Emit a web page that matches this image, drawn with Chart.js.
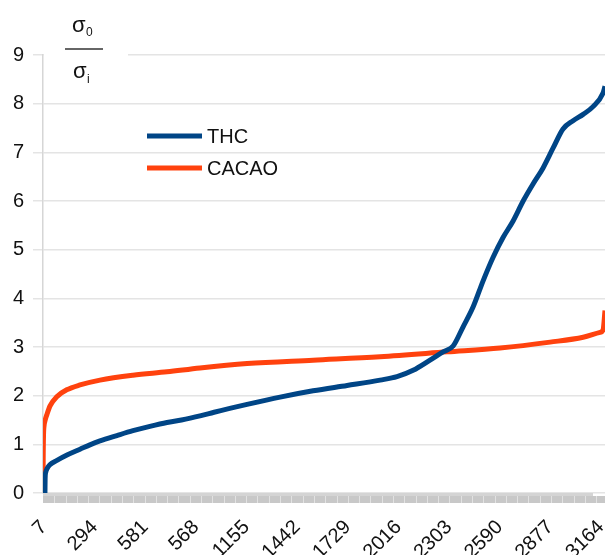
<!DOCTYPE html>
<html>
<head>
<meta charset="utf-8">
<script src="https://cdn.jsdelivr.net/npm/chart.js@4"></script>
<style>
  html, body { margin: 0; padding: 0; background: #fff; }
  #wrap { width: 605px; height: 555px; }
</style>
</head>
<body>
<div id="wrap"><canvas id="ratioChart" width="605" height="555"></canvas></div>
<script>
// x positions (sample index) and the tick labels shown on the axis
const tickValues = [7, 294, 581, 868, 1155, 1442, 1729, 2016, 2303, 2590, 2877, 3164];
const tickLabels = ['7', '294', '581', '568', '1155', '1442', '1729', '2016', '2303', '2590', '2877', '3164'];

// THC series
const thcX = [18, 19, 22, 30, 46, 86, 143, 217, 273, 330, 426, 517, 613, 710, 792, 903, 977, 1164, 1351, 1538, 1731, 1918, 2014, 2105, 2201, 2275, 2332, 2388, 2445, 2502, 2558, 2615, 2672, 2729, 2785, 2842, 2899, 2955, 3012, 3069, 3125, 3182, 3193];
const thcY = [0, 0.3, 0.42, 0.5, 0.58, 0.67, 0.78, 0.9, 0.99, 1.07, 1.18, 1.28, 1.37, 1.45, 1.5, 1.59, 1.66, 1.82, 1.97, 2.1, 2.21, 2.32, 2.39, 2.52, 2.73, 2.9, 3.02, 3.41, 3.82, 4.36, 4.84, 5.25, 5.59, 6.0, 6.35, 6.68, 7.09, 7.48, 7.65, 7.78, 7.94, 8.22, 8.36];

// CACAO series
const cacaoX = [7, 8, 10, 13, 18, 28, 47, 85, 141, 217, 330, 517, 710, 897, 1164, 1538, 1918, 2298, 2598, 2882, 3069, 3165, 3182, 3193];
const cacaoY = [0, 0.7, 1.2, 1.38, 1.48, 1.6, 1.79, 1.98, 2.12, 2.22, 2.32, 2.42, 2.49, 2.57, 2.66, 2.73, 2.80, 2.90, 2.98, 3.1, 3.2, 3.3, 3.35, 3.75];

const toPoints = (xs, ys) => xs.map((x, i) => ({ x: x, y: ys[i] }));
const FONT = '"Liberation Sans", Arial, sans-serif';

// grey band under the plot, with light stripes, and the slanted x labels
const axisBand = {
  id: 'axisBand',
  beforeDatasetsDraw(chart) {
    const { ctx, chartArea } = chart;
    const xs = chart.scales.x;
    ctx.save();
    ctx.fillStyle = '#d4d4d4';
    ctx.fillRect(chartArea.left, chartArea.bottom, chartArea.right - chartArea.left - 12, 3);
    ctx.fillStyle = '#c8c8c8';
    ctx.fillRect(chartArea.left, chartArea.bottom + 3, chartArea.right - chartArea.left, 7);
    ctx.fillStyle = '#e2e2e2';
    for (let v = 7 + 64; v < xs.max; v += 64) {
      const px = Math.round(xs.getPixelForValue(v));
      ctx.fillRect(px, chartArea.bottom + 3, 1, 7);
    }

    ctx.fillStyle = '#111';
    ctx.font = '20px ' + FONT;
    ctx.textAlign = 'right';
    ctx.textBaseline = 'middle';
    tickValues.forEach((v, i) => {
      const px = xs.getPixelForValue(v);
      ctx.save();
      ctx.translate(px + 1, chartArea.bottom + 31);
      ctx.rotate(-Math.PI / 4);
      ctx.fillText(tickLabels[i], 0, 0);
      ctx.restore();
    });
    ctx.restore();
  }
};

// fraction title and legend drawn inside the plot
const decorations = {
  id: 'decorations',
  afterDraw(chart) {
    const { ctx } = chart;
    ctx.save();
    ctx.fillStyle = '#fff';
    ctx.fillRect(44, 50, 84, 10);

    ctx.fillStyle = '#111';
    ctx.textBaseline = 'alphabetic';
    ctx.textAlign = 'left';
    ctx.font = '22px ' + FONT;
    ctx.fillText('σ', 72, 32);
    ctx.fillText('σ', 73, 78);
    ctx.font = '12px ' + FONT;
    ctx.fillText('0', 86, 36);
    ctx.fillText('i', 87, 83);
    ctx.strokeStyle = '#333';
    ctx.lineWidth = 1.5;
    ctx.beginPath();
    ctx.moveTo(65, 49);
    ctx.lineTo(103, 49);
    ctx.stroke();

    ctx.font = '20px ' + FONT;
    ctx.textBaseline = 'middle';
    chart.data.datasets.forEach((ds, i) => {
      const y = 136 + i * 32;
      ctx.strokeStyle = ds.borderColor;
      ctx.lineWidth = 5;
      ctx.beginPath();
      ctx.moveTo(147, y);
      ctx.lineTo(202, y);
      ctx.stroke();
      ctx.fillStyle = '#111';
      ctx.fillText(ds.label, 207, y + 1);
    });
    ctx.restore();
  }
};

const ctx = document.getElementById('ratioChart').getContext('2d');
const ratioChart = new Chart(ctx, {
  type: 'line',
  data: {
    datasets: [{
      label: 'THC',
      data: toPoints(thcX, thcY),
      borderColor: '#004586',
      borderWidth: 5,
      pointRadius: 0,
      cubicInterpolationMode: 'monotone'
    }, {
      label: 'CACAO',
      data: toPoints(cacaoX, cacaoY),
      borderColor: '#ff420e',
      borderWidth: 5,
      pointRadius: 0,
      cubicInterpolationMode: 'monotone'
    }]
  },
  options: {
    responsive: false,
    animation: false,
    devicePixelRatio: 1,
    layout: { padding: { top: 55, right: 0, left: 0, bottom: 0 } },
    plugins: { legend: { display: false }, tooltip: { enabled: false } },
    scales: {
      x: {
        type: 'linear',
        min: 7,
        max: 3193,
        afterBuildTicks: (scale) => { scale.ticks = tickValues.map(v => ({ value: v })); },
        afterFit: (scale) => { scale.height = 62; scale.paddingLeft = 0; scale.paddingRight = 0; },
        border: { display: false },
        grid: { display: false },
        ticks: { display: false }
      },
      y: {
        min: 0,
        max: 9,
        afterFit: (scale) => { scale.width = 43; scale.paddingTop = 0; scale.paddingBottom = 0; },
        border: { display: true, color: '#d6d6d6', width: 1.5 },
        grid: { color: '#e4e4e4', lineWidth: 1.5, tickLength: 10 },
        ticks: {
          stepSize: 1,
          padding: 9,
          color: '#111',
          font: { family: FONT, size: 20 }
        }
      }
    }
  },
  plugins: [axisBand, decorations]
});
</script>
</body>
</html>
